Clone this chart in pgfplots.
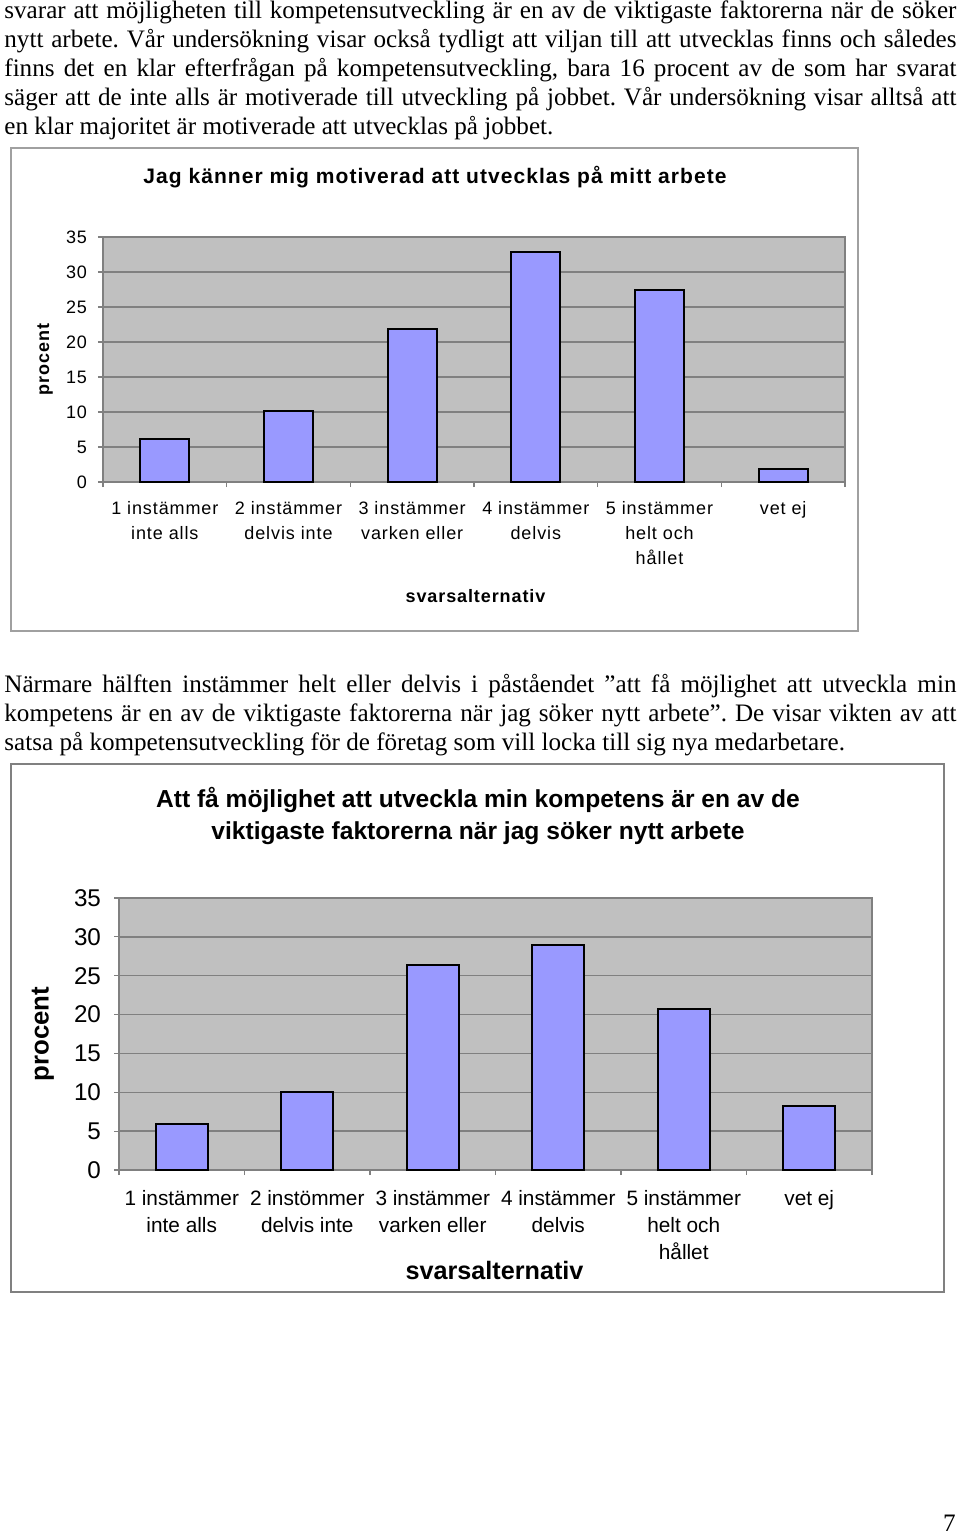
\documentclass[border=0pt]{standalone}
\usepackage{fontspec}
\setmainfont{Liberation Serif}
\newfontfamily\cA{Liberation Sans}[LetterSpace=5]
\newfontfamily\cB{Liberation Sans}
\usepackage{pgfplots}
\pgfplotsset{compat=1.18}
\definecolor{plotbg}{HTML}{C0C0C0}
\definecolor{gridc}{HTML}{808080}
\definecolor{barc}{HTML}{9999FF}
\definecolor{framec}{HTML}{A0A0A0}
\frenchspacing
\newcommand\bodyline[2]{\node[anchor=base west,inner sep=0pt] at (4,#1) {\fontsize{12.56}{14.5}\selectfont\frenchspacing\makebox[476pt][s]{#2}};}
\newcommand\lastline[2]{\node[anchor=base west,inner sep=0pt] at (4,#1) {\fontsize{12.56}{14.5}\selectfont\frenchspacing #2};}
\pgfplotsset{xlsbar/.style={
  scale only axis, anchor=south west,
  xmin=-0.5, xmax=5.5, ymin=0, ymax=35,
  axis background/.style={fill=plotbg},
  ytick={0,5,...,35}, ymajorgrids, grid style={gridc, line width=0.7pt},
  axis line style={gridc, line width=0.8pt},
  tick align=outside, major tick length=2.5pt, tick style={gridc, line width=0.6pt},
  xtick pos=bottom, ytick pos=left,
  xtick={-0.5,0.5,1.5,2.5,3.5,4.5,5.5}, xticklabels={},
  extra x ticks={0,1,2,3,4,5},
  /pgf/number format/assume math mode=true,
}}
\begin{document}
\begin{tikzpicture}[x=0.5pt,y=-0.5pt]
\path (0,0) rectangle (960,1537);
% paragraph 1
\bodyline{18}{svarar att möjligheten till kompetensutveckling är en av de viktigaste faktorerna när de söker}
\bodyline{47}{nytt arbete. Vår undersökning visar också tydligt att viljan till att utvecklas finns och således}
\bodyline{76}{finns det en klar efterfrågan på kompetensutveckling, bara 16 procent av de som har svarat}
\bodyline{105}{säger att de inte alls är motiverade till utveckling på jobbet. Vår undersökning visar alltså att}
\lastline{134}{en klar majoritet är motiverade att utvecklas på jobbet.}
% chart 1
\draw[framec, line width=0.8pt] (11,148) rectangle (858,631);
\node[font=\cA\bfseries\fontsize{10.5}{12}\selectfont] at (435,177) {Jag känner mig motiverad att utvecklas på mitt arbete};
\node[font=\cA\bfseries\fontsize{9}{11}\selectfont] at (475.5,596) {svarsalternativ};
\begin{axis}[xlsbar, at={(51.5pt,-241pt)}, width=371pt, height=122.5pt,
  yticklabel style={font=\cA\fontsize{9}{11}\selectfont, xshift=-2pt},
  extra x tick labels={{1 instämmer\\inte alls},{2 instämmer\\delvis inte},{3 instämmer\\varken eller},{4 instämmer\\delvis},{5 instämmer\\helt och\\hållet},{vet ej}},
  extra x tick style={major tick length=0pt, tick label style={align=center, font=\cA\fontsize{9}{12.5}\selectfont, yshift=-6pt}},
  ylabel={procent}, ylabel style={font=\cA\bfseries\fontsize{9}{11}\selectfont, at={(axis description cs:-0.078,0.5)}, anchor=center},
]
\addplot[ybar, bar width=24.5pt, fill=barc, draw=black, line width=1pt] coordinates {(0,6.1) (1,10.2) (2,21.9) (3,32.8) (4,27.4) (5,1.9)};
\end{axis}
% paragraph 2
\bodyline{692}{Närmare hälften instämmer helt eller delvis i påståendet ”att få möjlighet att utveckla min}
\bodyline{721}{kompetens är en av de viktigaste faktorerna när jag söker nytt arbete”. De visar vikten av att}
\lastline{750}{satsa på kompetensutveckling för de företag som vill locka till sig nya medarbetare.}
% chart 2
\draw[gridc, line width=0.8pt] (11,764) rectangle (944,1292);
\node[font=\cB\bfseries\fontsize{12.3}{16}\selectfont, align=center] at (478,816) {Att få möjlighet att utveckla min kompetens är en av de\\viktigaste faktorerna när jag söker nytt arbete};
\node[font=\cB\bfseries\fontsize{12.6}{14}\selectfont] at (494.5,1270) {svarsalternativ};
\begin{axis}[xlsbar, at={(59.5pt,-585pt)}, width=376.5pt, height=136pt,
  yticklabel style={font=\cB\fontsize{12.1}{14}\selectfont, xshift=-3pt},
  extra x tick labels={{1 instämmer\\inte alls},{2 instömmer\\delvis inte},{3 instämmer\\varken eller},{4 instämmer\\delvis},{5 instämmer\\helt och\\hållet},{vet ej}},
  extra x tick style={major tick length=0pt, tick label style={align=center, font=\cB\fontsize{10.4}{13.5}\selectfont, yshift=-6.5pt}},
  ylabel={procent}, ylabel style={font=\cB\bfseries\fontsize{12.9}{14}\selectfont, at={(axis description cs:-0.101,0.5)}, anchor=center},
]
\addplot[ybar, bar width=26pt, fill=barc, draw=black, line width=1pt] coordinates {(0,5.9) (1,10.0) (2,26.4) (3,28.9) (4,20.7) (5,8.2)};
\end{axis}
\node[anchor=base east, inner sep=0pt, font=\fontsize{12.56}{14.5}\selectfont] at (956,1531) {7};
\end{tikzpicture}
\end{document}
